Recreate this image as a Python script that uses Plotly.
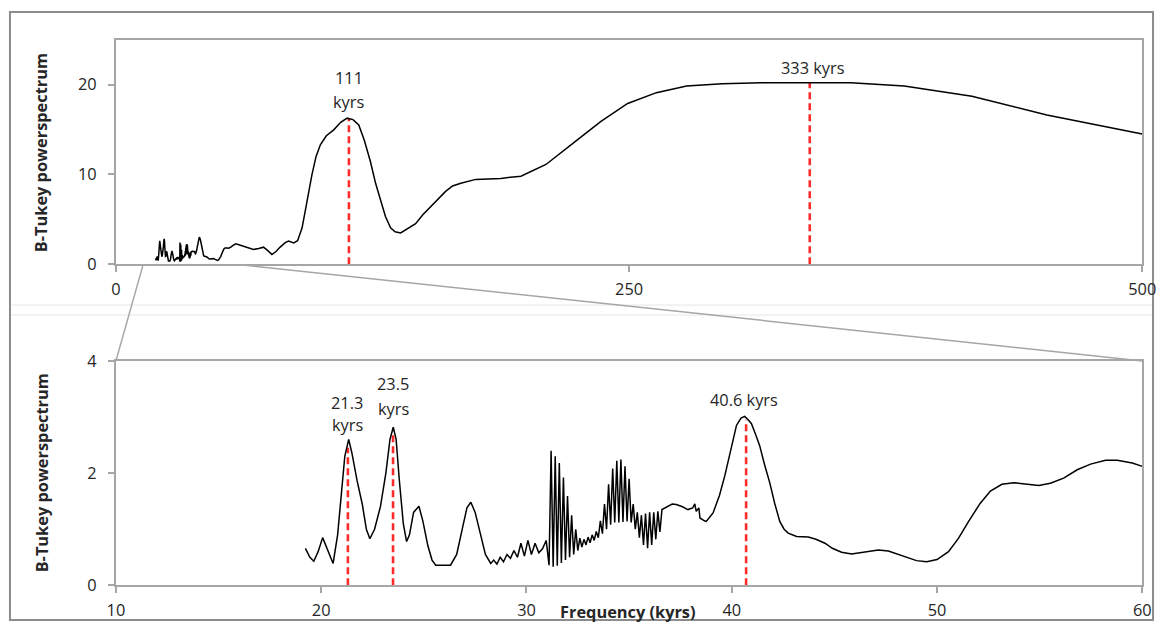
import plotly.graph_objects as go

# ---------------- data ----------------
period = [
    19.23, 19.45, 19.64, 19.85, 20.07, 20.3, 20.58, 20.8, 21.0, 21.15, 21.34, 21.5, 21.75, 22.0, 22.2,
    22.37, 22.6, 22.89, 23.15, 23.35, 23.51, 23.65, 23.8, 24.0, 24.16, 24.3, 24.5, 24.76, 24.95, 25.2,
    25.4, 25.58, 26.3, 26.6, 26.9, 27.1, 27.29, 27.5, 27.8, 28.0, 28.26,
    28.4, 28.56, 28.72, 28.88, 29.05, 29.22, 29.39, 29.56, 29.73, 29.9, 30.07, 30.24, 30.42, 30.6,
    30.78, 30.96,
    31.10, 31.20, 31.30, 31.40, 31.50, 31.60, 31.70, 31.80, 31.90, 32.00, 32.10, 32.20, 32.30, 32.40,
    32.50, 32.60, 32.70, 32.80, 32.90, 33.00, 33.10, 33.20, 33.30, 33.40, 33.50, 33.60, 33.70, 33.80,
    33.90, 34.00, 34.10, 34.20, 34.30, 34.40, 34.50, 34.60, 34.70, 34.80, 34.90, 35.00, 35.10, 35.20,
    35.30, 35.40, 35.50, 35.60, 35.70, 35.80, 35.90, 36.00, 36.10, 36.20, 36.30, 36.40, 36.50, 36.60,
    36.9, 37.1, 37.3, 37.6, 37.86, 38.1, 38.2, 38.27, 38.4, 38.45, 38.67, 38.76, 39.09, 39.4, 39.66,
    39.95, 40.23, 40.45, 40.63, 40.8, 40.96, 41.15, 41.36, 41.6, 41.85, 42.1, 42.34, 42.55, 42.75,
    43.16, 43.73, 44.1, 44.54, 44.9, 45.35, 45.84, 46.5, 47.14, 47.63, 48.1, 48.6, 49.0, 49.5, 50.0,
    50.56, 51.05, 51.54, 52.1, 52.6, 53.16, 53.74, 54.38, 54.96, 55.52, 56.17, 56.83, 57.48, 58.21,
    58.78, 59.51, 60.0,
    61.5, 63.8, 65.5, 67.0, 69.5, 71.9, 74.0, 76.0, 78.0, 80.0, 82.5, 84.1, 86.6, 88.5, 90.7, 93.0,
    95.5, 97.5, 99.6, 102.5, 106.1, 109.5, 112.6, 115.5, 118.3, 121.0, 124.0, 126.5, 128.9, 131.3,
    133.8, 136.0, 138.7, 142.0, 146.0, 149.5, 153.3, 157.0, 160.6, 164.0, 168.0, 175.3, 187.5, 197.3,
    209.5, 224.0, 236.3, 249.3, 263.3, 278.0, 295.4, 314.5, 338.0, 358.0, 384.0, 417.0, 453.5, 500.0,
]
power = [
    0.66, 0.50, 0.43, 0.60, 0.85, 0.65, 0.39, 0.90, 1.70, 2.30, 2.60, 2.35, 1.86, 1.45, 1.00,
    0.83, 1.00, 1.41, 2.00, 2.60, 2.82, 2.60, 1.90, 1.10, 0.78, 0.90, 1.30, 1.41, 1.15, 0.70,
    0.45, 0.36, 0.36, 0.55, 1.05, 1.38, 1.48, 1.30, 0.85, 0.55, 0.39,
    0.45, 0.38, 0.50, 0.42, 0.55, 0.48, 0.62, 0.50, 0.75, 0.52, 0.80, 0.55, 0.75, 0.58,
    0.65, 0.80,
    0.36, 2.40, 0.33, 2.30, 0.35, 2.18, 0.40, 1.92, 0.45, 1.59, 0.50, 1.25, 0.55, 1.00,
    0.62, 0.84, 0.68, 0.82, 0.72, 0.86, 0.76, 0.90, 0.80, 0.96, 0.85, 1.15, 0.92, 1.45,
    1.00, 1.80, 1.08, 2.08, 1.12, 2.22, 1.12, 2.24, 1.13, 2.12, 1.14, 1.90, 1.12, 1.45,
    1.00, 1.30, 0.85, 1.25, 0.72, 1.28, 0.66, 1.30, 0.72, 1.30, 0.82, 1.32, 0.95, 1.35,
    1.41, 1.45, 1.44, 1.40, 1.35, 1.38, 1.45, 1.32, 1.38, 1.20, 1.15, 1.14, 1.29, 1.60, 1.95,
    2.40, 2.85, 2.98, 3.01, 2.95, 2.88, 2.70, 2.49, 2.15, 1.83, 1.45, 1.14, 1.00, 0.93,
    0.87, 0.86, 0.82, 0.75, 0.66, 0.59, 0.56, 0.60, 0.63, 0.61, 0.55, 0.48, 0.44, 0.42, 0.46,
    0.60, 0.84, 1.14, 1.46, 1.68, 1.80, 1.83, 1.80, 1.78, 1.82, 1.91, 2.06, 2.16, 2.23,
    2.23, 2.18, 2.12,
    2.05, 1.89, 1.70, 1.63, 1.75, 1.89, 1.50, 1.07, 1.40, 1.90, 2.40, 2.56, 2.37, 2.60, 4.04, 7.00,
    9.96, 12.0, 13.3, 14.3, 14.96, 15.8, 16.26, 16.1, 15.5, 13.8, 11.4, 9.0, 7.0, 5.3,
    4.04, 3.6, 3.48, 3.9, 4.5, 5.5, 6.4, 7.3, 8.1, 8.7, 9.0, 9.44, 9.55, 9.8,
    11.1, 13.7, 15.9, 17.9, 19.1, 19.85, 20.1, 20.2, 20.2, 20.2, 19.85, 18.7, 16.6, 14.5,
]

# marked peaks: (position on axis, top of dashed line)
top_peaks_x = [113.5, 338.0]
top_peaks_y = [16.2, 20.2]
bottom_peaks_x = [21.3, 23.5, 40.7]
bottom_peaks_y = [2.45, 2.75, 2.95]

top_xticks = [0, 250, 500]
top_yticks = [0, 10, 20]
bottom_xticks = [10, 20, 30, 40, 50, 60]
bottom_yticks = [0, 2, 4]

# ---------------- layout helpers ----------------
# page = figure + 8px body margin on each side; the capture is rescaled to 1158x627
M = 8
W, H = 1168, 632
SX = (W + 2 * M) / 1158.0
SY = (H + 2 * M) / 627.0
SHIFT = 1.5
def px(x):
    return ((x - SHIFT) * SX - M) / W
def py(y):
    return 1 - ((y - SHIFT) * SY - M) / H

FONT = "Open Sans"
TXT = "#262626"
AX = "#a6a6a6"
FS = 16 * SX

fig = go.Figure()

curve_style = dict(color="black", width=1.5)
red_style = dict(color="#ff2a2a", width=2.6, dash="7px,4px")

for xv, yv in zip(top_peaks_x, top_peaks_y):
    fig.add_trace(go.Scatter(x=[xv, xv], y=[0, yv], mode="lines", line=red_style,
                             xaxis="x", yaxis="y", hoverinfo="skip"))
for xv, yv in zip(bottom_peaks_x, bottom_peaks_y):
    fig.add_trace(go.Scatter(x=[xv, xv], y=[0, yv], mode="lines", line=red_style,
                             xaxis="x2", yaxis="y2", hoverinfo="skip"))

fig.add_trace(go.Scatter(x=period, y=power, mode="lines", line=curve_style,
                         xaxis="x", yaxis="y", hoverinfo="skip"))
fig.add_trace(go.Scatter(x=period, y=power, mode="lines", line=curve_style,
                         xaxis="x2", yaxis="y2", hoverinfo="skip"))

axis_common = dict(showline=True, mirror=True, linecolor=AX, linewidth=2,
                   ticks="outside", ticklen=6, tickwidth=1.5, tickcolor=AX,
                   showgrid=False, zeroline=False,
                   tickfont=dict(family=FONT, size=FS, color=TXT))

fig.update_layout(
    width=W, height=H,
    margin=dict(l=0, r=0, t=0, b=0),
    paper_bgcolor="white", plot_bgcolor="white",
    showlegend=False,
    xaxis=dict(domain=[px(116), px(1140)], range=[0, 500], tickvals=top_xticks,
               anchor="y", ticklabelstandoff=3, **axis_common),
    yaxis=dict(domain=[py(263), py(38)], range=[0, 25], tickvals=top_yticks,
               anchor="x", ticklabelstandoff=8, **axis_common),
    xaxis2=dict(domain=[px(116), px(1140)], range=[10, 60], tickvals=bottom_xticks,
                anchor="y2", ticklabelstandoff=3, **axis_common),
    yaxis2=dict(domain=[py(585), py(360)], range=[0, 4], tickvals=bottom_yticks,
                anchor="x2", ticklabelstandoff=8, **axis_common),
)

shapes = [
    # outer frame
    dict(type="rect", xref="paper", yref="paper", x0=1.0 / W, x1=1 - 1.0 / W, y0=1.0 / H, y1=1 - 1.0 / H,
         line=dict(color="#8c8c8c", width=2), layer="below"),
    # faint separators
    dict(type="line", xref="paper", yref="paper", x0=2.0 / W, x1=1 - 2.0 / W, y0=py(304), y1=py(304),
         line=dict(color="#e6e6e6", width=1)),
    dict(type="line", xref="paper", yref="paper", x0=2.0 / W, x1=1 - 2.0 / W, y0=py(314), y1=py(314),
         line=dict(color="#e6e6e6", width=1)),
    # zoom connectors
    dict(type="line", xref="paper", yref="paper", x0=px(143), y0=py(264), x1=px(116), y1=py(360),
         line=dict(color=AX, width=1.5)),
    dict(type="line", xref="paper", yref="paper", x0=px(243), y0=py(264), x1=px(1140), y1=py(360),
         line=dict(color=AX, width=1.5)),
]
fig.update_layout(shapes=shapes)

ann_font = dict(family=FONT, size=FS, color=TXT)
title_font = dict(family=FONT, size=FS, color=TXT, weight="bold")
annotations = [
    dict(text="B-Tukey powerspectrum", xref="paper", yref="paper", x=px(42), y=py(151),
         textangle=-90, showarrow=False, font=title_font, xanchor="center", yanchor="middle"),
    dict(text="B-Tukey powerspectrum", xref="paper", yref="paper", x=px(42), y=py(472),
         textangle=-90, showarrow=False, font=title_font, xanchor="center", yanchor="middle"),
    dict(text="Frequency (kyrs)", xref="paper", yref="paper", x=px(627), y=py(612),
         showarrow=False, font=title_font, xanchor="center", yanchor="middle"),
    # peak labels, top panel
    dict(text="111", xref="x", yref="y", x=113.3, y=20.78, showarrow=False, font=ann_font),
    dict(text="kyrs", xref="x", yref="y", x=113.3, y=18.11, showarrow=False, font=ann_font),
    dict(text="333 kyrs", xref="x", yref="y", x=339.8, y=21.8, showarrow=False, font=ann_font),
    # peak labels, bottom panel
    dict(text="21.3", xref="x2", yref="y2", x=21.28, y=3.255, showarrow=False, font=ann_font),
    dict(text="kyrs", xref="x2", yref="y2", x=21.28, y=2.86, showarrow=False, font=ann_font),
    dict(text="23.5", xref="x2", yref="y2", x=23.52, y=3.58, showarrow=False, font=ann_font),
    dict(text="kyrs", xref="x2", yref="y2", x=23.52, y=3.147, showarrow=False, font=ann_font),
    dict(text="40.6 kyrs", xref="x2", yref="y2", x=40.6, y=3.31, showarrow=False, font=ann_font),
]
fig.update_layout(annotations=annotations)

fig.write_html("out.html")
